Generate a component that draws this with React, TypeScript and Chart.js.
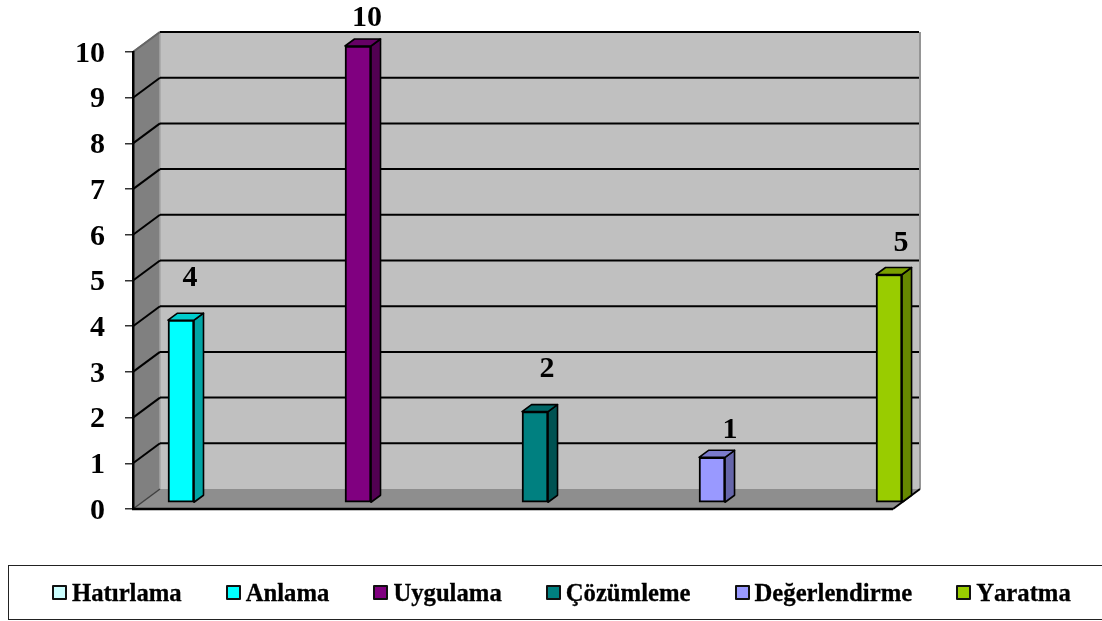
import React, { useEffect, useRef } from "react";
import { Chart, registerables } from "chart.js";

Chart.register(...registerables);

const seriesNames = ["Hatırlama", "Anlama", "Uygulama", "Çözümleme", "Değerlendirme", "Yaratma"];
const seriesValues = [0, 4, 10, 2, 1, 5];
const seriesSlots = [-1, 0, 1, 2, 3, 4];
const frontColors = ["#CCFFFF", "#00FFFF", "#800080", "#008080", "#9999FF", "#99CC00"];
const sideColors = ["#88AAAA", "#00A5A5", "#520052", "#005252", "#6666AA", "#668800"];
const topColors = ["#AACCCC", "#00CCCC", "#660066", "#006666", "#7A7ACC", "#7A9F00"];
const labelShiftX = [0, 9, 9, 12, 18, 12];
const labelShiftY = [0, 35, 21, 35, 20, 24];
const yTicks = [0, 10];

const SERIF = "'Liberation Serif', 'Times New Roman', serif";
const WALL_DX = 27;
const WALL_DY = -20;
const BAR_DX = 9.5;
const BAR_DY = -6;
const BAR_SIDE_DX = 9.5;
const BAR_SIDE_DY = -7;

function poly(ctx: CanvasRenderingContext2D, pts: number[][], fill: string | null, stroke: string | null, lw = 2) {
  ctx.beginPath();
  pts.forEach((p, i) => (i ? ctx.lineTo(p[0], p[1]) : ctx.moveTo(p[0], p[1])));
  ctx.closePath();
  if (fill) {
    ctx.fillStyle = fill;
    ctx.fill();
  }
  if (stroke) {
    ctx.strokeStyle = stroke;
    ctx.lineWidth = lw;
    ctx.lineJoin = "round";
    ctx.stroke();
  }
}

function seg(ctx: CanvasRenderingContext2D, x1: number, y1: number, x2: number, y2: number, c: string, lw: number) {
  ctx.beginPath();
  ctx.moveTo(x1, y1);
  ctx.lineTo(x2, y2);
  ctx.strokeStyle = c;
  ctx.lineWidth = lw;
  ctx.stroke();
}

const wallsPlugin = {
  id: "walls",
  beforeDraw(chart: any) {
    const { ctx, chartArea: a, scales } = chart;
    const L = a.left, R = a.right, T = a.top, B = a.bottom;
    const dx = WALL_DX, dy = WALL_DY;
    ctx.save();
    poly(ctx, [[L + dx, T + dy], [R + dx, T + dy], [R + dx, B + dy], [L + dx, B + dy]], "#C0C0C0", null);
    poly(ctx, [[L, T], [L + dx, T + dy], [L + dx, B + dy], [L, B]], "#808080", null);
    poly(ctx, [[L, B], [L + dx, B + dy], [R + dx, B + dy], [R, B]], "#8E8E8E", null);
    seg(ctx, R + dx, T + dy, R + dx, B + dy, "#959595", 2);
    seg(ctx, L + dx, T + dy, L + dx, B + dy, "#A6A6A6", 1.5);
    seg(ctx, L, T, L + dx, T + dy, "#808080", 2);
    for (let v = yTicks[0]; v <= yTicks[1]; v++) {
      const y = scales.y.getPixelForValue(v);
      if (v > 0) {
        seg(ctx, L, y, L + dx, y + dy, v === 10 ? "#666666" : "#000000", 2);
        seg(ctx, L + dx, y + dy, R + dx - 1, y + dy, "#000000", 2);
      } else {
        seg(ctx, L, y, L + dx, y + dy, "#404040", 1.5);
      }
    }
    seg(ctx, L - 1, B, R, B, "#000000", 2.5);
    seg(ctx, R, B, R + dx, B + dy, "#000000", 2);
    ctx.restore();
  },
};

const bars3dPlugin = {
  id: "bars3d",
  beforeDatasetDraw(chart: any, args: any) {
    const { ctx } = chart;
    ctx.save();
    ctx.translate(BAR_DX, BAR_DY);
    const i = args.index;
    const el = chart.getDatasetMeta(i).data[0];
    if (!el || !seriesValues[i]) return;
    const l = el.x - el.width / 2, r = el.x + el.width / 2, t = el.y, b = el.base;
    const sx = BAR_SIDE_DX, sy = BAR_SIDE_DY;
    poly(ctx, [[r, t], [r + sx, t + sy], [r + sx, b + sy], [r, b]], sideColors[i], "#000000", 1.6);
    poly(ctx, [[l, t], [l + sx, t + sy], [r + sx, t + sy], [r, t]], topColors[i], "#000000", 1.6);
  },
  afterDatasetDraw(chart: any) {
    chart.ctx.restore();
  },
  afterDatasetsDraw(chart: any) {
    const { ctx } = chart;
    ctx.save();
    ctx.font = `bold 30px ${SERIF}`;
    ctx.fillStyle = "#000000";
    ctx.textAlign = "center";
    ctx.textBaseline = "middle";
    seriesValues.forEach((v, i) => {
      if (!v) return;
      const el = chart.getDatasetMeta(i).data[0];
      ctx.fillText(String(v), el.x + BAR_DX + labelShiftX[i], el.y + BAR_DY + BAR_SIDE_DY - labelShiftY[i]);
    });
    ctx.restore();
  },
};

export default function App() {
  const ref = useRef<HTMLCanvasElement>(null);
  useEffect(() => {
    const chart = new Chart(ref.current as HTMLCanvasElement, {
      type: "bar",
      data: {
        datasets: seriesNames.map((name, i) => ({
          label: name,
          data: [{ x: seriesSlots[i], y: seriesValues[i] }],
          backgroundColor: seriesValues[i] ? frontColors[i] : "transparent",
          borderColor: "#000000",
          borderWidth: seriesValues[i] ? 2 : 0,
          borderSkipped: false,
          barThickness: 26,
          grouped: false,
          clip: false,
        })),
      } as any,
      options: {
        animation: false,
        responsive: false,
        layout: { padding: { top: 52, bottom: 112, right: 209, left: 0 } },
        plugins: { legend: { display: false }, tooltip: { enabled: false }, title: { display: false } },
        scales: {
          x: { type: "linear", display: false, offset: false, min: -0.2175, max: 4.076 },
          y: {
            min: yTicks[0],
            max: yTicks[1],
            ticks: {
              stepSize: 1,
              padding: 20,
              labelOffset: 2,
              color: "#000000",
              font: { family: SERIF, size: 30, weight: "bold" },
            },
            grid: { drawOnChartArea: false, drawTicks: true, tickLength: 8, color: "#333333", lineWidth: 1.5 },
            border: { color: "#000000", width: 2.5 },
            afterFit: (s: any) => {
              s.width = 133;
            },
          },
        },
      } as any,
      plugins: [wallsPlugin, bars3dPlugin],
    });
    return () => chart.destroy();
  }, []);

  return (
    <div style={{ position: "absolute", left: 0, top: 0, width: 1102, height: 621, overflow: "hidden", background: "#fff" }}>
      <canvas ref={ref} width={1102} height={621} style={{ display: "block", width: 1102, height: 621 }} />
      <div
        style={{
          position: "absolute",
          left: 8,
          top: 565,
          width: 1110,
          height: 55,
          boxSizing: "border-box",
          border: "1.5px solid #222",
          display: "flex",
          alignItems: "center",
          paddingLeft: 43,
          gap: 44,
          fontFamily: SERIF,
          fontWeight: "bold",
          fontSize: 24.7,
          fontKerning: "none",
          WebkitTextStroke: "0.3px #000",
          color: "#000",
          whiteSpace: "nowrap",
        }}
      >
        {seriesNames.map((name, i) => (
          <span key={name} style={{ display: "inline-flex", alignItems: "center" }}>
            <span
              style={{
                display: "inline-block",
                width: 15,
                height: 15,
                boxSizing: "border-box",
                border: "2.5px solid #111",
                borderRadius: 1,
                background: frontColors[i],
                marginRight: 5,
              }}
            />
            {name}
          </span>
        ))}
      </div>
    </div>
  );
}
